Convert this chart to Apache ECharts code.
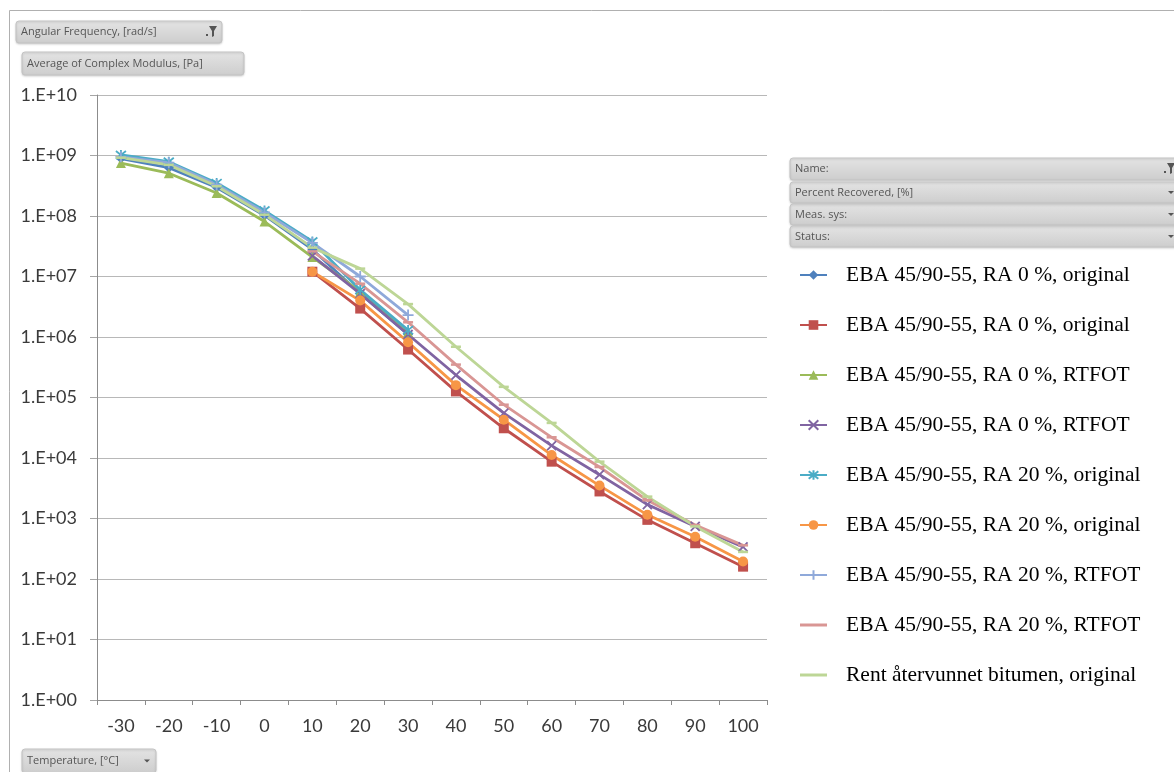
<!DOCTYPE html>
<html>
<head>
<meta charset="utf-8">
<script src="https://cdn.jsdelivr.net/npm/echarts@6/dist/echarts.min.js"></script>
<style>
html,body{margin:0;padding:0;background:#fff;}
#chart{width:1174px;height:772px;}
</style>
</head>
<body>
<div id="chart"></div>
<script>
// ---- data ----
const categories = ['-30','-20','-10','0','10','20','30','40','50','60','70','80','90','100'];
const seriesNames = [
  'EBA 45/90-55, RA 0 %, original',
  'EBA 45/90-55, RA 0 %, original',
  'EBA 45/90-55, RA 0 %, RTFOT',
  'EBA 45/90-55, RA 0 %, RTFOT',
  'EBA 45/90-55, RA 20 %, original',
  'EBA 45/90-55, RA 20 %, original',
  'EBA 45/90-55, RA 20 %, RTFOT',
  'EBA 45/90-55, RA 20 %, RTFOT',
  'Rent återvunnet bitumen, original'
];
const ra0OrigLow    = [8.9e8, 6.3e8, 2.95e8, 1.02e8, 2.8e7, 5.2e6, 1.1e6, null, null, null, null, null, null, null];
const ra0OrigHigh   = [null, null, null, null, 1.2e7, 2.95e6, 6.2e5, 1.26e5, 3.1e4, 8.7e3, 2.8e3, 9.5e2, 3.9e2, 1.6e2];
const ra0RtfotLow   = [7.5e8, 5.1e8, 2.4e8, 8.1e7, 2.1e7, 5.6e6, 1.2e6, null, null, null, null, null, null, null];
const ra0RtfotHigh  = [null, null, null, null, 2.2e7, 5.2e6, 1.1e6, 2.35e5, 5.5e4, 1.6e4, 5.3e3, 1.7e3, 7.4e2, 3.4e2];
const ra20OrigLow   = [1.02e9, 7.9e8, 3.5e8, 1.23e8, 3.8e7, 6.0e6, 1.3e6, null, null, null, null, null, null, null];
const ra20OrigHigh  = [null, null, null, null, 1.2e7, 4.0e6, 8.2e5, 1.6e5, 4.3e4, 1.12e4, 3.5e3, 1.15e3, 5.0e2, 1.95e2];
const ra20RtfotLow  = [9.5e8, 7.6e8, 3.3e8, 1.15e8, 3.6e7, 1.0e7, 2.3e6, null, null, null, null, null, null, null];
const ra20RtfotHigh = [null, null, null, null, 2.6e7, 7.6e6, 1.75e6, 3.5e5, 7.6e4, 2.2e4, 7.1e3, 2.0e3, 7.8e2, 3.6e2];
const rentOrig      = [9.2e8, 7.0e8, 3.1e8, 1.05e8, 3.0e7, 1.35e7, 3.5e6, 6.9e5, 1.5e5, 3.8e4, 8.7e3, 2.3e3, 7.4e2, 2.8e2];
const seriesValues = [ra0OrigLow, ra0OrigHigh, ra0RtfotLow, ra0RtfotHigh, ra20OrigLow, ra20OrigHigh, ra20RtfotLow, ra20RtfotHigh, rentOrig];

// ---- styles ----
const colors  = ['#4F81BD','#C0504D','#9BBB59','#8064A2','#4BACC6','#F79646','#8FA9DA','#D99694','#BDD696'];
const symbols = ['diamond','rect','triangle',
  'path://M0,0L10,10M10,0L0,10',
  'path://M1,1L9,9M9,1L1,9M5,0L5,10',
  'circle',
  'path://M0,5L10,5M5,0L5,10',
  'rect','rect'];
const symbolSizes = [10, 10, 10, 9, 10, 10, 11, [10,2.5], [10,2.5]];
const strokeOnly = [false,false,false,true,true,false,true,false,false];
const barIcon = 'path://M0,0L27,0L27,3L0,3Z';

const series = seriesValues.map((vals, i) => ({
  name: seriesNames[i] + '#' + i,
  type: 'line',
  data: vals,
  symbol: symbols[i],
  symbolSize: symbolSizes[i],
  showSymbol: true,
  connectNulls: false,
  lineStyle: { color: colors[i], width: 2.8 },
  itemStyle: strokeOnly[i]
    ? { color: colors[i], borderColor: colors[i], borderWidth: 1.8 }
    : { color: colors[i], borderWidth: 0 },
  emphasis: { disabled: true },
  animation: false
}));

const legendData = series.map((s, i) => (i >= 7
  ? { name: s.name, icon: barIcon, itemStyle: { color: colors[i], borderWidth: 0 } }
  : { name: s.name }));

function button(x, y, w, h, label, icon) {
  const children = [
    { type: 'rect', shape: { x: 0, y: 0, width: w, height: h, r: 3 },
      style: { fill: new echarts.graphic.LinearGradient(0,0,0,1,[{offset:0,color:'#e4e4e4'},{offset:1,color:'#cdcdcd'}]),
               stroke: '#c4c4c4', lineWidth: 1, shadowBlur: 2, shadowColor: 'rgba(0,0,0,0.15)', shadowOffsetY: 1 } },
    { type: 'text', x: 5, y: h / 2,
      style: { text: label, fill: '#555', font: '11px "Open Sans", sans-serif', verticalAlign: 'middle' } }
  ];
  if (icon === 'filter') {
    children.push({ type: 'polygon', shape: { points: [[w-13, h/2-6],[w-5, h/2-6],[w-8, h/2-1],[w-8, h/2+4],[w-10, h/2+5],[w-10, h/2-1]] },
      style: { fill: '#555' } });
    children.push({ type: 'rect', shape: { x: w-16, y: h/2+2, width: 2, height: 2 }, style: { fill: '#555' } });
  } else if (icon === 'arrow') {
    children.push({ type: 'polygon', shape: { points: [[w-12, h/2-1.5],[w-6, h/2-1.5],[w-9, h/2+1.5]] }, style: { fill: '#555' } });
  }
  return { type: 'group', x: x, y: y, children: children };
}

const chart = echarts.init(document.getElementById('chart'), null, { renderer: 'canvas' });
chart.setOption({
  backgroundColor: '#fff',
  animation: false,
  grid: { left: 97, right: 407, top: 95, bottom: 72, containLabel: false },
  legend: {
    orient: 'vertical',
    left: 799, top: 264,
    padding: 0,
    itemWidth: 27, itemHeight: 12,
    itemGap: 28,
    selectedMode: false,
    formatter: name => name.split('#')[0],
    textStyle: { fontFamily: '"Liberation Serif", serif', fontSize: 21.5, color: '#000', lineHeight: 22, padding: [0,0,0,14] },
    data: legendData
  },
  xAxis: {
    type: 'category',
    data: categories,
    boundaryGap: true,
    axisLine: { show: true, lineStyle: { color: '#8c8c8c', width: 1 } },
    axisTick: { show: true, length: 5, alignWithLabel: false, lineStyle: { color: '#8c8c8c' } },
    axisLabel: { fontFamily: 'Lato, "Open Sans", sans-serif', fontSize: 18, color: '#3a3a3a', margin: 17, interval: 0 },
    splitLine: { show: false }
  },
  yAxis: {
    type: 'log',
    logBase: 10,
    min: 1, max: 1e10,
    interval: 1,
    axisLine: { show: true, lineStyle: { color: '#8c8c8c', width: 1 } },
    axisTick: { show: true, length: 7, lineStyle: { color: '#a6a6a6' } },
    axisLabel: {
      fontFamily: 'Lato, "Open Sans", sans-serif', fontSize: 18, color: '#3a3a3a', margin: 20,
      formatter: v => '1.E+' + String(Math.round(Math.log10(v))).padStart(2, '0')
    },
    splitLine: { show: true, lineStyle: { color: '#b8b8b8', width: 1 } }
  },
  graphic: [
    { type: 'polyline', shape: { points: [[9.5, 772],[9.5, 10.5],[1174, 10.5]] }, style: { stroke: '#b0b0b0', lineWidth: 1, fill: null } },
    button(16, 21, 206, 22, 'Angular Frequency, [rad/s]', 'filter'),
    button(22, 52, 222, 23, 'Average of Complex Modulus, [Pa]', null),
    button(22, 749, 134, 24, 'Temperature, [°C]', 'arrow'),
    button(790, 158, 390, 22, 'Name:', 'filter'),
    button(790, 182, 390, 21, 'Percent Recovered, [%]', 'arrow'),
    button(790, 204, 390, 21, 'Meas. sys:', 'arrow'),
    button(790, 226, 390, 21, 'Status:', 'arrow')
  ],
  series: series
});
</script>
</body>
</html>
